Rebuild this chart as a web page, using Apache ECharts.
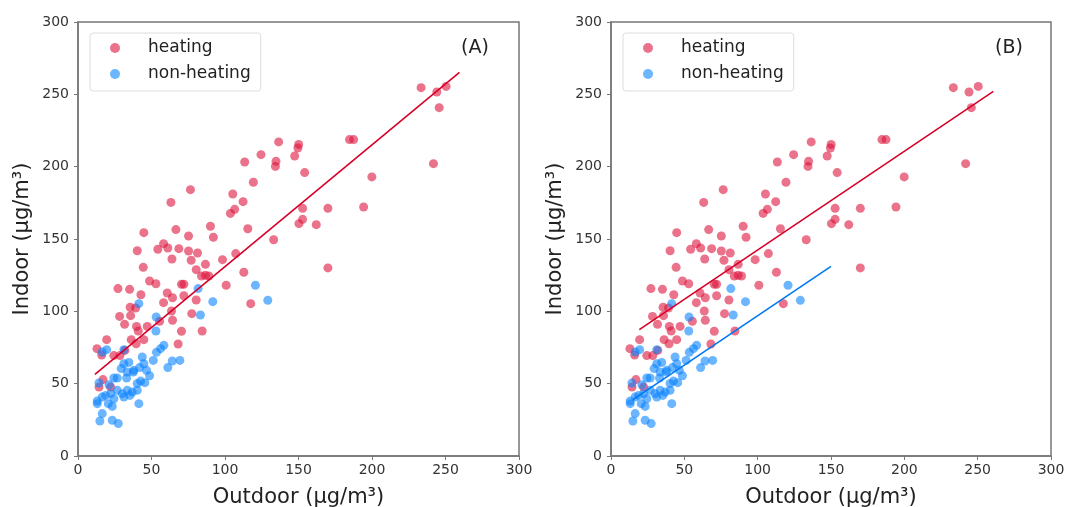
<!DOCTYPE html>
<html>
<head>
<meta charset="utf-8">
<script src="https://cdn.jsdelivr.net/npm/echarts@6/dist/echarts.min.js"></script>
<style>
  html, body { margin: 0; padding: 0; background: #fff; }
  #main { width: 1067px; height: 507px; }
</style>
</head>
<body>
<div id="main"></div>
<script>
// data: [outdoor, indoor]
var heating = [
  [233.4,254.6],[244.1,251.6],[250.4,255.5],[245.7,240.8],[241.8,202.1],
  [184.7,218.7],[187.5,218.7],[199.9,192.9],[194.3,172.1],[170.0,171.2],
  [170.0,130.0],[162.1,159.9],[136.5,217.1],[150.1,215.4],[149.6,212.9],
  [147.4,207.4],[154.2,195.9],[134.7,203.7],[134.3,200.2],[124.5,208.3],
  [113.4,203.2],[119.3,189.2],[105.3,181.1],[112.3,175.8],[106.6,170.5],
  [103.7,167.7],[152.8,171.2],[152.8,163.6],[150.3,160.6],[115.5,157.1],
  [133.1,149.5],[90.1,158.8],[92.1,151.2],[107.3,139.9],[98.3,135.7],
  [112.8,127.0],[100.8,118.0],[117.5,105.3],[76.5,184.1],[63.2,175.3],
  [66.6,156.5],[75.2,152.1],[44.8,154.4],[40.3,141.9],[58.2,146.8],
  [54.3,142.9],[61.1,143.8],[68.6,143.3],[63.9,136.2],[75.2,141.7],
  [77.0,135.3],[81.3,140.3],[86.7,132.5],[80.4,128.8],[84.0,124.4],
  [86.7,124.9],[89.0,124.4],[44.4,130.4],[48.7,121.0],[53.0,119.1],
  [70.4,118.7],[72.0,118.7],[27.2,115.7],[35.1,115.2],[42.8,111.5],
  [60.7,112.7],[64.3,109.4],[72.0,110.8],[80.4,107.8],[58.2,106.0],
  [63.6,100.2],[35.5,102.8],[39.2,102.3],[28.3,96.5],[35.8,97.0],
  [31.7,91.0],[39.8,89.6],[47.1,89.6],[41.0,86.4],[55.5,93.1],
  [64.3,93.8],[77.4,98.4],[70.4,86.2],[84.5,86.4],[68.1,77.4],
  [19.5,80.4],[12.9,74.2],[16.1,69.8],[24.4,69.4],[28.5,69.4],
  [36.2,80.4],[39.6,77.6],[44.8,80.4],[31.9,73.0],[17.0,52.8],
  [14.3,47.7],[22.2,47.7]
];
var nonHeating = [
  [120.7,118.0],[129.1,107.6],[91.7,106.7],[83.3,97.5],[81.7,115.7],
  [41.4,105.3],[53.2,96.1],[53.0,86.4],[58.4,76.5],[56.2,74.2],
  [53.4,71.7],[51.2,66.1],[69.3,66.1],[64.1,65.7],[61.1,61.1],
  [43.7,68.4],[44.8,63.8],[41.9,61.1],[38.0,59.2],[48.7,55.5],
  [42.6,51.8],[45.5,50.7],[34.6,64.7],[31.2,63.8],[29.4,60.4],
  [31.2,73.5],[19.5,73.5],[16.5,71.9],[24.4,53.9],[33.1,53.9],
  [37.6,58.1],[14.3,50.5],[13.1,38.0],[13.1,36.2],[16.5,40.8],
  [18.8,41.9],[22.2,43.1],[24.4,39.6],[23.3,34.3],[26.7,45.4],
  [30.1,43.1],[33.5,45.4],[36.9,44.2],[40.3,45.4],[31.2,40.8],
  [35.3,41.9],[41.4,36.2],[16.5,29.3],[14.9,24.2],[23.3,24.7],
  [27.4,22.4],[20.6,36.2],[46.6,59.2],[33.5,58.1],[40.3,50.1],
  [26.7,53.9],[21.1,49.2]
];
// fitted lines (end points)
var fitA = [[11.5,56.5],[259.5,265.2]];
var fitBHeating = [[19.3,87.3],[260.7,252.1]];
var fitBNonHeating = [[15,39],[150,131.1]];
var panelLabels = ['(A)', '(B)'];

var chart = echarts.init(document.getElementById('main'));
var font = 'DejaVu Sans';
var red = 'rgb(220,20,60)';
var blue = 'rgb(10,132,255)';

function xAx(i){
  return {
    gridIndex:i, type:'value', min:0, max:300, interval:50,
    name:'Outdoor (μg/m³)', nameLocation:'middle', nameGap:31,
    nameTextStyle:{fontFamily:font, fontSize:21, color:'#222'},
    axisLine:{show:true, lineStyle:{color:'#777', width:1.5}},
    axisTick:{show:true, length:4, lineStyle:{color:'#777'}},
    axisLabel:{fontFamily:font, fontSize:14, color:'#333', margin:7},
    splitLine:{show:false}
  };
}
function yAx(i){
  return {
    gridIndex:i, type:'value', min:0, max:300, interval:50,
    name:'Indoor (μg/m³)', nameLocation:'middle', nameGap:45,
    nameTextStyle:{fontFamily:font, fontSize:21, color:'#222'},
    axisLine:{show:true, lineStyle:{color:'#777', width:1.5}},
    axisTick:{show:true, length:4, lineStyle:{color:'#777'}},
    axisLabel:{fontFamily:font, fontSize:14, color:'#333', margin:9},
    splitLine:{show:false}
  };
}
function legend(left){
  return {
    left:left, top:33, orient:'vertical',
    data:['heating','non-heating'],
    icon:'circle', itemWidth:10, itemHeight:10, itemGap:6,
    padding:[5,10,7,20],
    borderColor:'#ddd', borderWidth:1, borderRadius:3,
    textStyle:{fontFamily:font, fontSize:17, lineHeight:20, color:'#222', padding:[0,0,0,23]}
  };
}
function scatter(name, data, color, i){
  return {
    name:name, type:'scatter', data:data, xAxisIndex:i, yAxisIndex:i,
    symbolSize:9, itemStyle:{color:color, opacity:0.6}, silent:true
  };
}
function fit(data, color, i){
  return {
    type:'line', data:data, xAxisIndex:i, yAxisIndex:i,
    showSymbol:false, lineStyle:{color:color, width:1.6}, silent:true
  };
}

chart.setOption({
  animation:false,
  title:[
    {text:panelLabels[0], left:456, top:34, textStyle:{fontFamily:font, fontSize:19, fontWeight:'normal', color:'#222'}},
    {text:panelLabels[1], left:990, top:34, textStyle:{fontFamily:font, fontSize:19, fontWeight:'normal', color:'#222'}}
  ],
  grid:[
    {left:78, top:22, width:441, height:434, show:true, borderColor:'#777', borderWidth:1.5, outerBoundsMode:'none'},
    {left:611, top:22, width:440, height:434, show:true, borderColor:'#777', borderWidth:1.5, outerBoundsMode:'none'}
  ],
  legend:[legend(90), legend(623)],
  xAxis:[xAx(0), xAx(1)],
  yAxis:[yAx(0), yAx(1)],
  series:[
    scatter('heating', heating, red, 0),
    scatter('non-heating', nonHeating, blue, 0),
    fit(fitA, 'rgb(215,0,40)', 0),
    scatter('heating', heating, red, 1),
    scatter('non-heating', nonHeating, blue, 1),
    fit(fitBHeating, 'rgb(215,0,40)', 1),
    fit(fitBNonHeating, 'rgb(0,120,240)', 1)
  ]
});
</script>
</body>
</html>
